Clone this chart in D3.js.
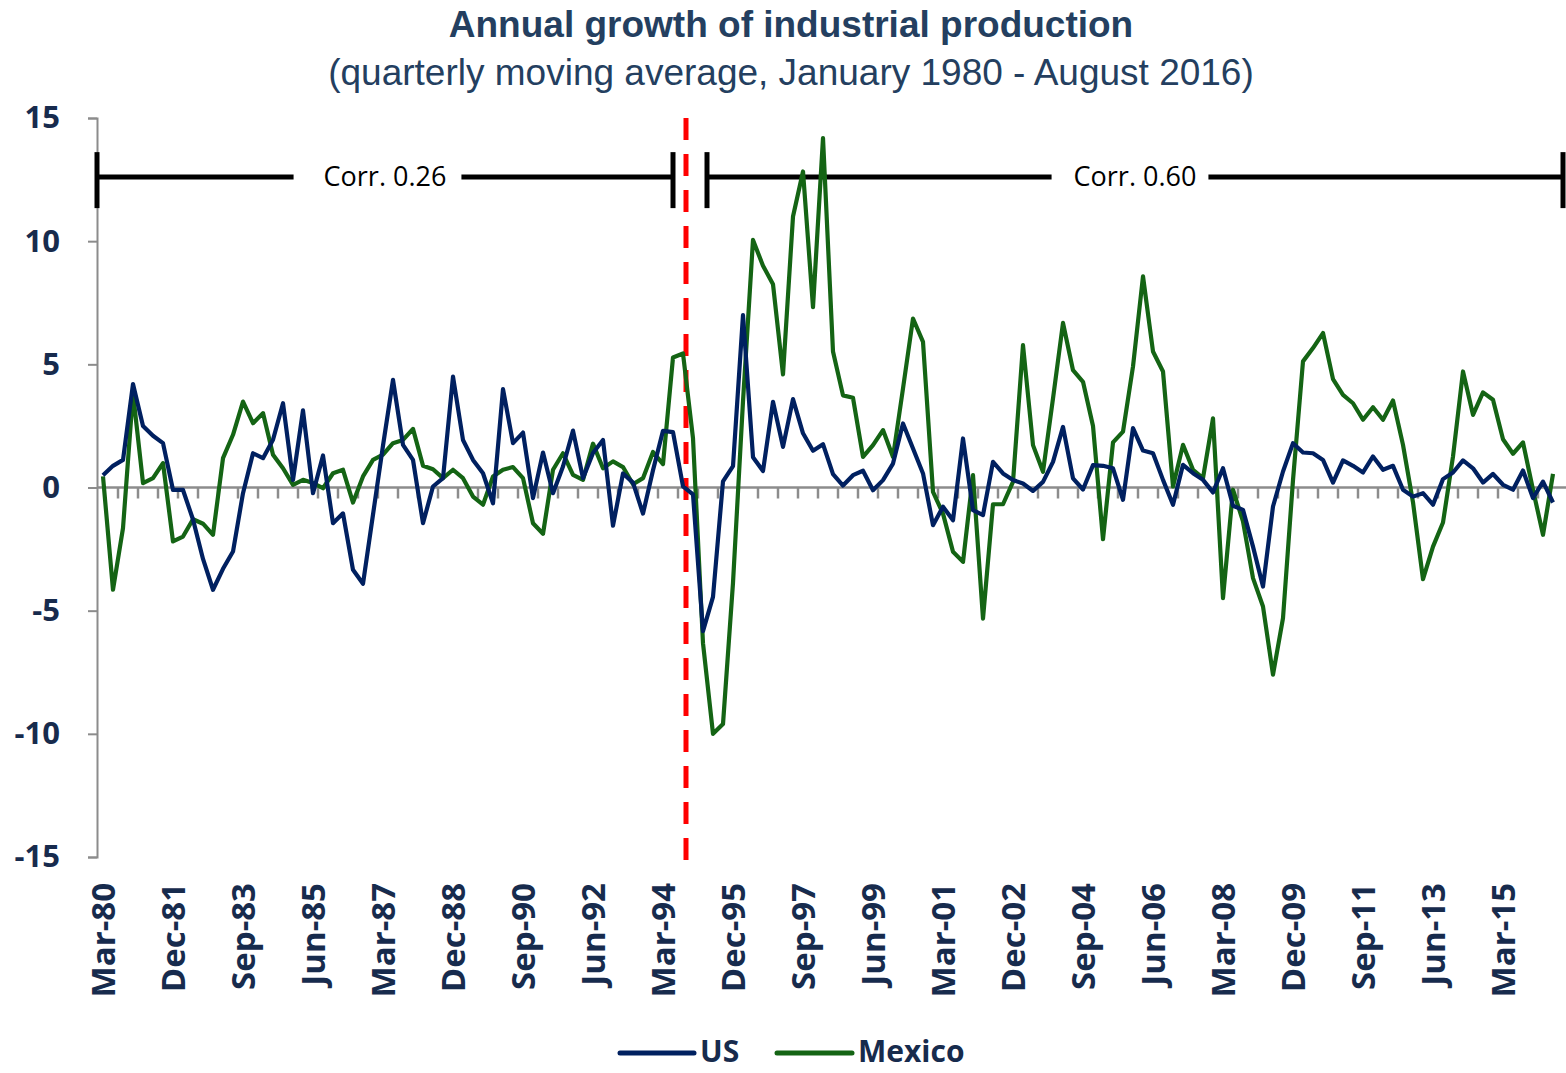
<!DOCTYPE html>
<html><head><meta charset="utf-8">
<script src="https://cdn.jsdelivr.net/npm/d3@7"></script>
<style>
html,body{margin:0;padding:0;background:#fff;}
svg{display:block;}
</style></head>
<body>
<svg id="chart" width="1566" height="1073"></svg>
<script>
// ---- data ----
const startYear = 1980;
const quarterMonths = ["Mar","Jun","Sep","Dec"];
const tickLabels = ["Mar-80","Dec-81","Sep-83","Jun-85","Mar-87","Dec-88","Sep-90","Jun-92","Mar-94","Dec-95","Sep-97","Jun-99","Mar-01","Dec-02","Sep-04","Jun-06","Mar-08","Dec-09","Sep-11","Jun-13","Mar-15"];
const usValues = [0.5,0.88,1.12,4.2,2.5,2.1,1.8,-0.1,-0.1,-1.3,-2.9,-4.15,-3.3,-2.6,-0.23,1.39,1.19,1.94,3.42,0.31,
3.13,-0.23,1.3,-1.45,-1.05,-3.34,-3.91,-1.1,1.7,4.37,1.73,1.12,-1.45,0.04,0.38,4.5,1.93,1.12,0.58,-0.64,
3.99,1.8,2.23,-0.43,1.42,-0.23,0.85,2.31,0.38,1.4,1.93,-1.55,0.57,0.2,-1.06,0.7,2.3,2.25,0.05,-0.28,
-5.83,-4.44,0.25,0.87,7.0,1.23,0.67,3.48,1.65,3.59,2.2,1.49,1.76,0.54,0.08,0.5,0.68,-0.11,0.3,0.97,
2.6,1.58,0.57,-1.53,-0.78,-1.33,1.99,-0.92,-1.12,1.04,0.57,0.3,0.16,-0.14,0.23,1.04,2.46,0.37,-0.08,0.91,
0.88,0.78,-0.5,2.41,1.5,1.39,0.31,-0.7,0.92,0.58,0.31,-0.2,0.78,-0.74,-0.91,-2.4,-4.02,-0.77,0.65,1.8,
1.42,1.39,1.12,0.2,1.1,0.88,0.61,1.26,0.72,0.88,-0.09,-0.37,-0.23,-0.7,0.34,0.61,1.1,0.78,0.2,0.55,
0.11,-0.09,0.69,-0.43,0.24,-0.61];
const mexicoValues = [0.45,-4.15,-1.65,3.83,0.18,0.38,0.99,-2.19,-1.99,-1.29,-1.47,-1.92,1.19,2.14,3.49,2.61,3.02,1.33,0.78,0.11,
0.31,0.18,-0.03,0.58,0.72,-0.61,0.45,1.12,1.33,1.8,1.93,2.38,0.88,0.74,0.38,0.72,0.38,-0.37,-0.7,0.45,
0.72,0.83,0.38,-1.45,-1.88,0.72,1.39,0.51,0.31,1.78,0.78,1.06,0.83,0.13,0.38,1.44,0.95,5.28,5.44,2.0,
-6.32,-10.0,-9.6,-3.87,3.5,10.05,9.0,8.25,4.59,11.0,12.83,7.32,14.18,5.52,3.74,3.64,1.24,1.72,2.33,1.24,
4.02,6.86,5.91,-0.18,-1.06,-2.61,-3.02,0.5,-5.32,-0.68,-0.68,0.23,5.78,1.72,0.64,3.61,6.68,4.76,4.29,2.5,
-2.1,1.83,2.27,4.91,8.57,5.52,4.71,0.04,1.73,0.72,0.38,2.81,-4.49,-0.09,-1.38,-3.68,-4.83,-7.6,-5.3,0.3,
5.12,5.66,6.27,4.4,3.76,3.42,2.75,3.26,2.75,3.53,1.73,-0.6,-3.72,-2.4,-1.42,1.26,4.71,2.95,3.86,3.56,
1.96,1.37,1.83,-0.09,-1.92,0.55];
const yTicks = [-15,-10,-5,0,5,10,15];
const seriesNames = ["US","Mexico"];
const corrLabels = ["Corr. 0.26","Corr. 0.60"];

// categories (quarter labels)
const categories = usValues.map((d,i)=>{
  const yr = startYear + Math.floor(i/4);
  return quarterMonths[i%4] + "-" + String(yr%100).padStart(2,"0");
});

// ---- chart ----
const svg = d3.select("#chart");
const navy = "#002060", green = "#146414", textCol = "#172b4d", gray = "#8c8c8c";

const x = d3.scaleBand().domain(categories).range([98,1558]).padding(0);
const xc = c => x(c) + x.bandwidth()/2;
const y = d3.scaleLinear().domain([-15,15]).range([857,118]);

// title
svg.append("text").attr("x",791).attr("y",37).attr("text-anchor","middle")
  .style("font-family","'Liberation Sans',Arial,sans-serif").style("font-weight","bold")
  .style("font-size","37px").style("fill","#243f60")
  .text("Annual growth of industrial production");
svg.append("text").attr("x",791).attr("y",85).attr("text-anchor","middle")
  .style("font-family","'Liberation Sans',Arial,sans-serif")
  .style("font-size","37px").style("fill","#243f60")
  .text("(quarterly moving average, January 1980 - August 2016)");

// y axis
const yAxis = d3.axisLeft(y).tickValues(yTicks).tickSize(9).tickPadding(28).tickFormat(d=>String(d));
const yg = svg.append("g").attr("transform","translate(97,0)").call(yAxis);
yg.select(".domain").attr("stroke",gray).attr("stroke-width",2);
yg.selectAll(".tick line").attr("stroke",gray).attr("stroke-width",2);
yg.selectAll(".tick text").style("font-family","'Open Sans',sans-serif").style("font-weight","bold")
  .style("font-size","31px").style("fill",textCol);

// zero axis line + minor ticks
svg.append("line").attr("x1",97).attr("x2",1566).attr("y1",y(0)).attr("y2",y(0))
  .attr("stroke",gray).attr("stroke-width",2.5);
svg.append("g").selectAll("line").data(categories.filter((c,i)=>i%2===0 && i>0))
  .join("line").attr("x1",c=>x(c)).attr("x2",c=>x(c))
  .attr("y1",y(0)).attr("y2",y(0)+11).attr("stroke",gray).attr("stroke-width",2.5);

// x tick labels
svg.append("g").selectAll("text").data(tickLabels).join("text")
  .attr("transform",c=>`translate(${xc(c)+12},883) rotate(-90)`)
  .attr("text-anchor","end")
  .style("font-family","'Open Sans',sans-serif").style("font-weight","bold")
  .style("font-size","33px").style("fill",textCol)
  .text(c=>c);

// crisis dashed line
const crisisX = x("Dec-94") - 2;
svg.append("line").attr("x1",crisisX).attr("x2",crisisX).attr("y1",y(15)).attr("y2",866)
  .attr("stroke","#ff0000").attr("stroke-width",5).attr("stroke-dasharray","22,14");

// correlation brackets
const corrY = y(12.6);
function bracket(x1,x2,label,gapL,gapR){
  const g = svg.append("g");
  const mid = (x1+x2)/2;
  const t = g.append("text").attr("x",mid).attr("y",corrY+9).attr("text-anchor","middle")
    .style("font-family","'Open Sans',sans-serif").style("font-size","27px").style("fill","#000")
    .text(label);
  const w = t.node().getComputedTextLength();
  g.append("line").attr("x1",x1).attr("x2",mid-w/2-gapL).attr("y1",corrY).attr("y2",corrY)
    .attr("stroke","#000").attr("stroke-width",5);
  g.append("line").attr("x1",mid+w/2+gapR).attr("x2",x2).attr("y1",corrY).attr("y2",corrY)
    .attr("stroke","#000").attr("stroke-width",5);
  [x1,x2].forEach(xx=>g.append("line").attr("x1",xx).attr("x2",xx).attr("y1",corrY-25).attr("y2",corrY+31)
    .attr("stroke","#000").attr("stroke-width",5));
}
bracket(x.range()[0]-1, xc("Jun-94"), corrLabels[0], 30, 15);
bracket(x("Jun-95")-1, x.range()[1]+5, corrLabels[1], 22, 12);

// series lines
const line = d3.line().x((d,i)=>xc(categories[i])).y(d=>y(d));
svg.append("path").datum(mexicoValues).attr("d",line).attr("fill","none")
  .attr("stroke",green).attr("stroke-width",4.2).attr("stroke-linejoin","round");
svg.append("path").datum(usValues).attr("d",line).attr("fill","none")
  .attr("stroke",navy).attr("stroke-width",4.2).attr("stroke-linejoin","round");

// legend
const legend = svg.append("g");
const legItems = [{name:seriesNames[0],col:navy,x1:620,x2:694,tx:700},{name:seriesNames[1],col:green,x1:777,x2:852,tx:858}];
legItems.forEach(it=>{
  legend.append("line").attr("x1",it.x1).attr("x2",it.x2).attr("y1",1053).attr("y2",1053)
    .attr("stroke",it.col).attr("stroke-width",5).attr("stroke-linecap","round");
  legend.append("text").attr("x",it.tx).attr("y",1062)
    .style("font-family","'Open Sans',sans-serif").style("font-weight","bold")
    .style("font-size","30px").style("fill",textCol).text(it.name);
});
</script>
</body></html>
